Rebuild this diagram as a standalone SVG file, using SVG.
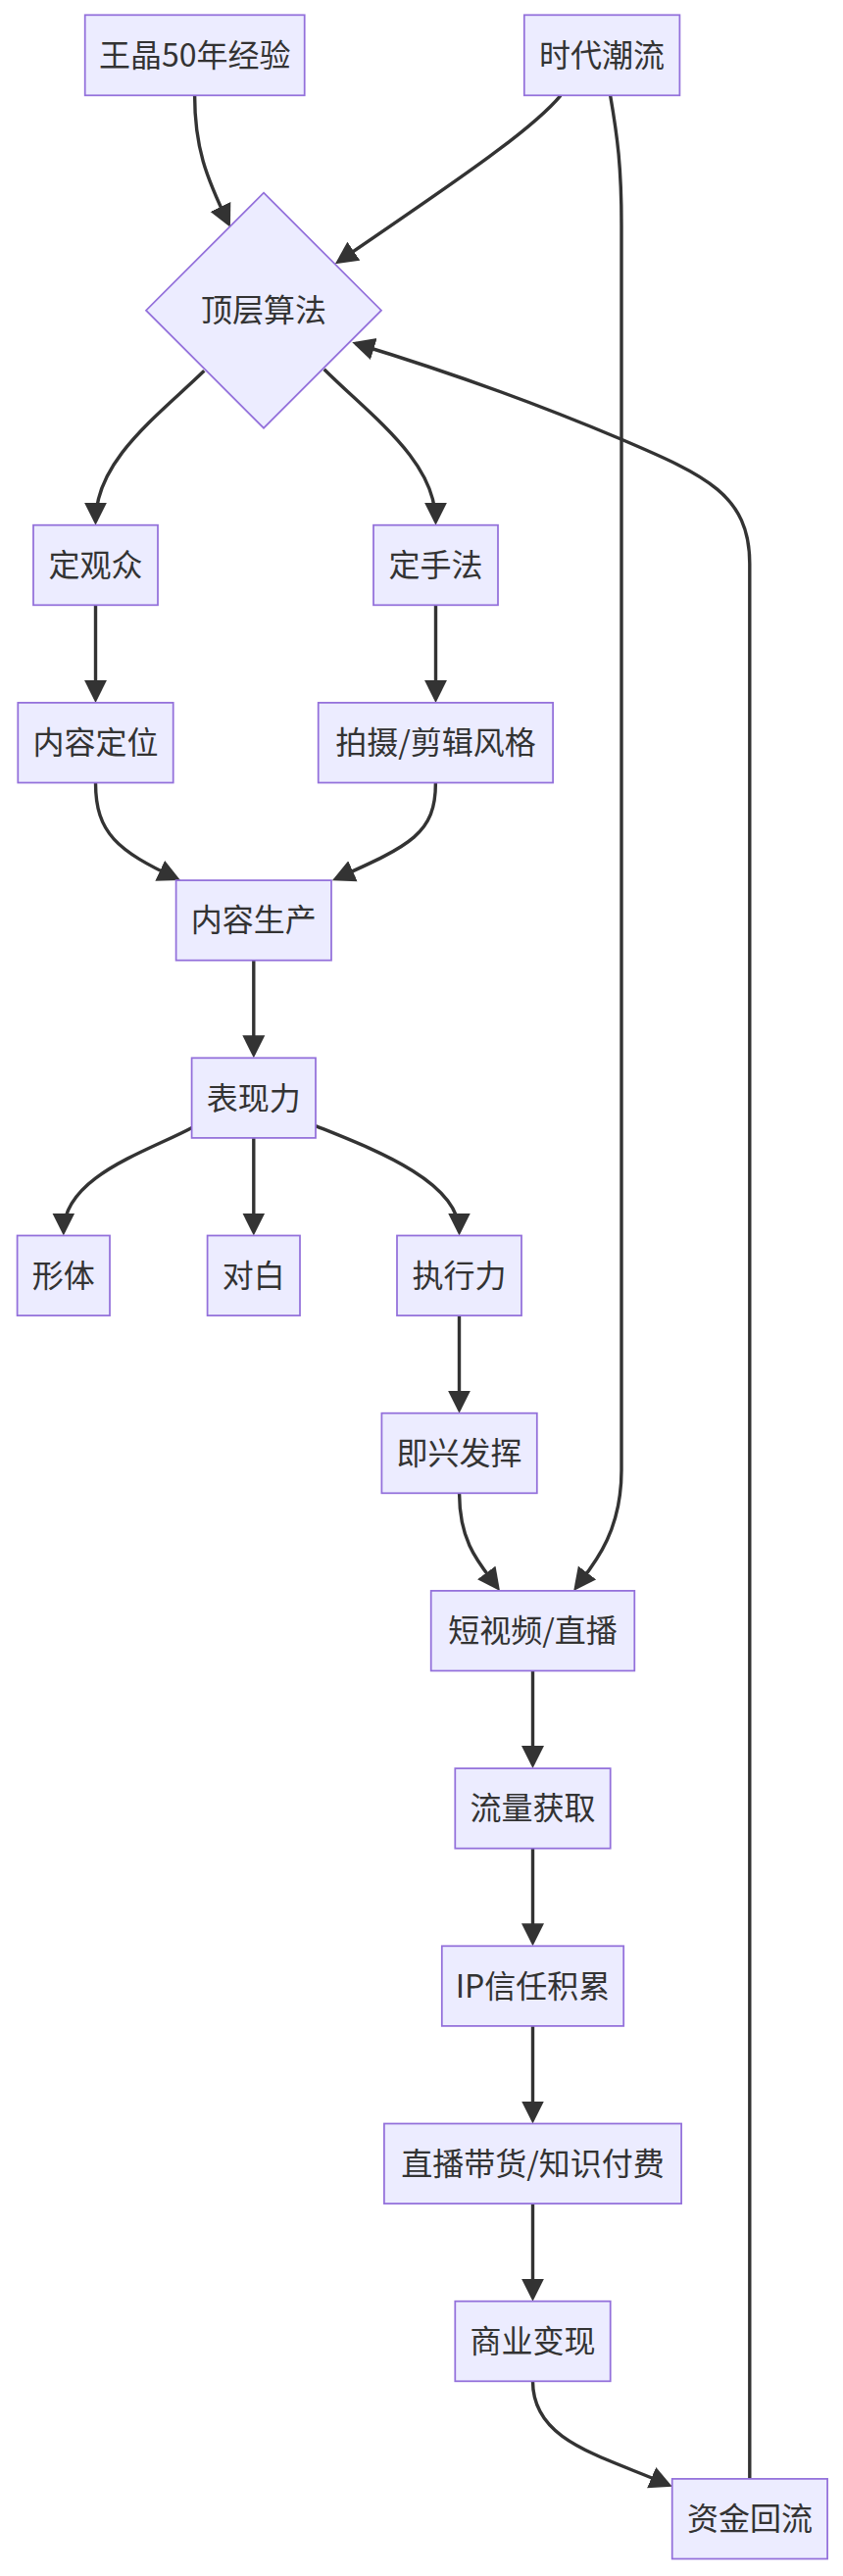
<svg xmlns="http://www.w3.org/2000/svg" width="860" height="2628" viewBox="0 0 860 2628">
<style>
.node rect, .node polygon { fill:#ECECFF; stroke:#9370DB; stroke-width:1.75; }
.node text { font-family:"Noto Sans CJK SC","Noto Sans",sans-serif; font-size:32px; fill:#333333; text-anchor:middle; }
.edge { fill:none; stroke:#333333; stroke-width:3.4; marker-end:url(#arrow); }
</style>
<defs>
<marker id="arrow" markerUnits="userSpaceOnUse" viewBox="0 0 24 24" markerWidth="24" markerHeight="24" refX="19" refY="12" orient="auto">
<path d="M0,0.5 L23,12 L0,23.5 z" fill="#333333"/>
</marker>
</defs>
<rect width="860" height="2628" fill="#ffffff"/>
<g id="edges">
<path class="edge" d="M198.6,97.3 C198.6,150 210,180 233.2,228.1"/>
<path class="edge" d="M572,97.3 C545,130 480,175 345.2,266.9"/>
<path class="edge" d="M622.6,97.3 C630,140 634,170 634,230 L634,1500 C634,1565 604,1598 587.6,1619.7"/>
<path class="edge" d="M764.8,2528.9 L764.8,575 C764.8,505 720,485 634,448.3 C560,417 470,383 363.1,350.5"/>
<path class="edge" d="M208.3,378.3 C160,425 97.5,470 97.5,531.7"/>
<path class="edge" d="M330.7,376.7 C378,424 444.5,470 444.5,531.7"/>
<path class="edge" d="M97.5,617.3 L97.5,712.9"/>
<path class="edge" d="M444.5,617.3 L444.5,712.9"/>
<path class="edge" d="M97.5,798.5 C97.5,850 120,868 180.4,896.4"/>
<path class="edge" d="M444.4,798.5 C444.4,850 420,862 342.6,896.5"/>
<path class="edge" d="M258.8,979.7 L258.8,1075.3"/>
<path class="edge" d="M195.8,1150.4 C150,1175 64.8,1200 64.8,1256.5"/>
<path class="edge" d="M258.8,1160.9 L258.8,1256.5"/>
<path class="edge" d="M322,1148.6 C380,1172 468.5,1205 468.5,1256.5"/>
<path class="edge" d="M468.5,1342.1 L468.5,1437.7"/>
<path class="edge" d="M468.6,1523.3 C468.6,1575 490,1596 507.6,1619.7"/>
<path class="edge" d="M543.5,1704.5 L543.5,1800.1"/>
<path class="edge" d="M543.5,1885.7 L543.5,1981.3"/>
<path class="edge" d="M543.5,2066.9 L543.5,2162.5"/>
<path class="edge" d="M543.5,2248.1 L543.5,2343.7"/>
<path class="edge" d="M543.5,2429.3 C543.5,2490 610,2504 682.1,2535.1"/>
</g>
<g id="n_wangjing" class="node"><rect x="86.7" y="15.3" width="224" height="82"/><text x="198.7" y="67.8">王晶50年经验</text></g>
<g id="n_shidai" class="node"><rect x="534.8" y="15.3" width="158.6" height="82"/><text x="614.1" y="67.8">时代潮流</text></g>
<g id="n_dingceng" class="node"><polygon points="269,196.7 389,316.7 269,436.7 149,316.7"/><text x="269" y="328.2">顶层算法</text></g>
<g id="n_dingguanzhong" class="node"><rect x="34" y="535.7" width="127" height="81.6"/><text x="97.5" y="588">定观众</text></g>
<g id="n_dingshoufa" class="node"><rect x="381" y="535.7" width="127" height="81.6"/><text x="444.5" y="588">定手法</text></g>
<g id="n_neirongdingwei" class="node"><rect x="18.3" y="716.9" width="158.4" height="81.6"/><text x="97.5" y="769.2">内容定位</text></g>
<g id="n_paishe" class="node"><rect x="324.7" y="716.9" width="239.4" height="81.6"/><text x="444.4" y="769.2">拍摄/剪辑风格</text></g>
<g id="n_neirongshengchan" class="node"><rect x="179.6" y="898.1" width="158.4" height="81.6"/><text x="258.8" y="950.4">内容生产</text></g>
<g id="n_biaoxianli" class="node"><rect x="195.6" y="1079.3" width="126.4" height="81.6"/><text x="258.8" y="1131.6">表现力</text></g>
<g id="n_xingti" class="node"><rect x="17.6" y="1260.5" width="94.4" height="81.6"/><text x="64.8" y="1312.8">形体</text></g>
<g id="n_duibai" class="node"><rect x="211.6" y="1260.5" width="94.4" height="81.6"/><text x="258.8" y="1312.8">对白</text></g>
<g id="n_zhixingli" class="node"><rect x="405" y="1260.5" width="127" height="81.6"/><text x="468.5" y="1312.8">执行力</text></g>
<g id="n_jixing" class="node"><rect x="389.4" y="1441.7" width="158.4" height="81.6"/><text x="468.6" y="1494">即兴发挥</text></g>
<g id="n_duanshipin" class="node"><rect x="439.7" y="1622.9" width="207.6" height="81.6"/><text x="543.5" y="1675.2">短视频/直播</text></g>
<g id="n_liuliang" class="node"><rect x="464.3" y="1804.1" width="158.4" height="81.6"/><text x="543.5" y="1856.4">流量获取</text></g>
<g id="n_ip" class="node"><rect x="450.8" y="1985.3" width="185.4" height="81.6"/><text x="543.5" y="2037.6">IP信任积累</text></g>
<g id="n_zhibodaihuo" class="node"><rect x="391.9" y="2166.5" width="303.2" height="81.6"/><text x="543.5" y="2218.8">直播带货/知识付费</text></g>
<g id="n_shangye" class="node"><rect x="464.3" y="2347.7" width="158.4" height="81.6"/><text x="543.5" y="2400">商业变现</text></g>
<g id="n_zijin" class="node"><rect x="685.7" y="2528.9" width="158.4" height="81.6"/><text x="764.9" y="2581.2">资金回流</text></g>
</svg>
